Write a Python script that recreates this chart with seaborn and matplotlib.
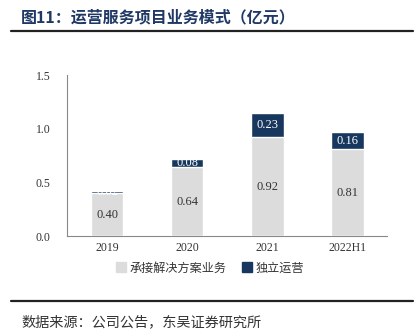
import matplotlib
matplotlib.use("Agg")
import matplotlib.pyplot as plt
import seaborn as sns
import pandas as pd
import numpy as np
from matplotlib.lines import Line2D

categories = ["2019", "2020", "2021", "2022H1"]
contract_vals = [0.40, 0.64, 0.92, 0.81]
independent_vals = [0.02, 0.08, 0.23, 0.16]
yticks = [0.0, 0.5, 1.0, 1.5]
series_names = ["承接解决方案业务", "独立运营"]
title = "图11：运营服务项目业务模式（亿元）"
source = "数据来源：公司公告，东吴证券研究所"

sns.set_theme(style="white")
plt.rcParams['font.family'] = ['Liberation Serif', 'Noto Sans CJK SC', 'DejaVu Sans']

GREY = "#DCDCDC"
NAVY = "#17375E"
TITLE_C = "#1F3864"

df = pd.DataFrame({"cat": categories,
                   "contract": contract_vals,
                   "indep": independent_vals})
df["total"] = df["contract"] + df["indep"]

fig = plt.figure(figsize=(4.19, 3.36), dpi=100)
ax = fig.add_axes([0.16, 0.2976, 0.764, 0.479])

sns.barplot(data=df, x="cat", y="total", color=NAVY, width=0.41,
            saturation=1, ax=ax, zorder=2)
sns.barplot(data=df, x="cat", y="contract", color=GREY, width=0.41,
            saturation=1, ax=ax, zorder=3)

for i, (c, d) in enumerate(zip(contract_vals, independent_vals)):
    ax.text(i, c / 2, f"{c:.2f}", ha="center", va="center",
            fontsize=9, color="#333333", family="Liberation Serif", zorder=5)
    ax.text(i, c + d / 2, f"{d:.2f}", ha="center", va="center",
            fontsize=9, color="white", family="Liberation Serif", zorder=5)

ax.set_xlim(-0.5, 3.5)
ax.set_ylim(0, 1.5)
ax.set_yticks(yticks)
ax.set_yticklabels([f"{v:.1f}" for v in yticks], family="Liberation Serif",
                   fontsize=8.5, color="#333333")
ax.set_xticks(range(len(categories)))
ax.set_xticklabels(categories, family="Liberation Serif", fontsize=8.5,
                   color="#333333")
ax.set_xlabel("")
ax.set_ylabel("")
ax.tick_params(axis="x", length=0, pad=4)
ax.tick_params(axis="y", direction="in", length=3, color="#888888", width=0.8, pad=12)
ax.set_xticks([0.5, 1.5, 2.5], minor=True)
ax.tick_params(axis="x", which="minor", direction="in", length=3, color="#888888", width=0.8)
for s in ["top", "right"]:
    ax.spines[s].set_visible(False)
for s in ["left", "bottom"]:
    ax.spines[s].set_color("#888888")
    ax.spines[s].set_linewidth(0.8)

handles = [Line2D([], [], marker="s", linestyle="none", markersize=6.5,
                  markerfacecolor=GREY, markeredgecolor=GREY),
           Line2D([], [], marker="s", linestyle="none", markersize=6.5,
                  markerfacecolor=NAVY, markeredgecolor=NAVY)]
leg = fig.legend(handles, series_names, loc="center", bbox_to_anchor=(0.5, 1 - 268 / 336),
                 ncol=2, frameon=False, handletextpad=0.2, handlelength=1.0,
                 columnspacing=1.2, prop={"family": ["Noto Sans CJK SC"], "size": 8.7})
for t in leg.get_texts():
    t.set_color("#333333")

fig.text(21 / 419, 1 - 17 / 336, title, ha="left", va="center", fontsize=11.5,
         fontweight="bold", color=TITLE_C, family=["Noto Sans CJK SC"])
fig.add_artist(Line2D([11 / 419, 413 / 419], [1 - 31 / 336, 1 - 31 / 336],
                      color="#222222", linewidth=1.6))
fig.add_artist(Line2D([11 / 419, 413 / 419], [1 - 301 / 336, 1 - 301 / 336],
                      color="#222222", linewidth=1.6))
fig.text(21 / 419, 1 - 322 / 336, source, ha="left", va="center", fontsize=10.2,
         color="#333333", family=["Noto Sans CJK SC"])

fig.savefig("out.png", dpi=100)
